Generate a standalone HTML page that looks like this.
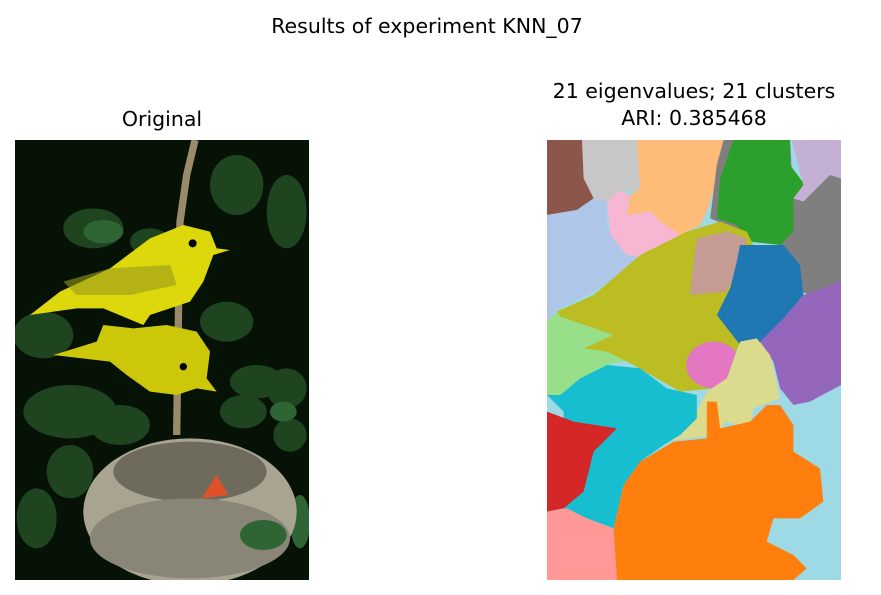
<!DOCTYPE html>
<html><head><meta charset="utf-8"><style>
body{margin:0;background:#fff;width:881px;height:595px;overflow:hidden;position:relative;font-family:"DejaVu Sans","Liberation Sans",sans-serif;}
.t{position:absolute;font-size:20.5px;color:#000;text-align:center;white-space:nowrap;line-height:27px}
svg{position:absolute}
</style></head><body>
<div class="t" style="left:0;width:854px;top:13px">Results of experiment KNN_07</div>
<div class="t" style="left:15px;width:294px;top:106px">Original</div>
<div class="t" style="left:547px;width:294px;top:78px">21 eigenvalues; 21 clusters<br>ARI: 0.385468</div>

<svg style="left:15px;top:140px" width="294" height="440" viewBox="15 15 882 1320" preserveAspectRatio="none">
<rect x="15" y="15" width="882" height="1320" fill="#071207"/>
<g fill="#1e4420">
<ellipse cx="250" cy="280" rx="90" ry="60"/><ellipse cx="680" cy="150" rx="80" ry="90"/><ellipse cx="830" cy="230" rx="60" ry="110"/>
<ellipse cx="100" cy="600" rx="90" ry="70"/><ellipse cx="180" cy="830" rx="140" ry="80"/><ellipse cx="330" cy="870" rx="90" ry="60"/>
<ellipse cx="740" cy="740" rx="80" ry="50"/><ellipse cx="700" cy="830" rx="70" ry="50"/><ellipse cx="830" cy="760" rx="60" ry="60"/>
<ellipse cx="180" cy="1010" rx="70" ry="80"/><ellipse cx="80" cy="1150" rx="60" ry="90"/><ellipse cx="650" cy="560" rx="80" ry="60"/>
<ellipse cx="840" cy="900" rx="50" ry="50"/><ellipse cx="420" cy="320" rx="60" ry="40"/>
</g>
<g fill="#2f6534"><ellipse cx="760" cy="1200" rx="80" ry="55"/><ellipse cx="870" cy="1160" rx="30" ry="80"/><ellipse cx="820" cy="830" rx="40" ry="30"/><ellipse cx="280" cy="290" rx="60" ry="35"/></g>
<path d="M555 15 L530 120 L510 260 L505 560 L500 900" stroke="#9a8a6a" stroke-width="22" fill="none"/>
<path d="M60 540 L150 470 L300 400 L420 310 L520 270 L600 290 L620 340 L660 345 L610 360 L580 440 L540 500 L420 540 L400 570 L280 520 L200 520 Z" fill="#dcd80c"/>
<path d="M160 440 L300 400 L480 390 L500 450 L360 480 L200 480 Z" fill="#9a9a1a" opacity="0.6"/>
<path d="M130 660 L260 620 L280 570 L370 580 L470 570 L560 590 L600 650 L590 730 L620 770 L560 760 L500 780 L420 770 L350 720 L300 680 Z" fill="#cdc70a"/>
<circle cx="548" cy="325" r="12" fill="#000"/><circle cx="520" cy="695" r="11" fill="#000"/>
<ellipse cx="540" cy="1130" rx="320" ry="220" fill="#a9a492"/>
<ellipse cx="540" cy="1010" rx="230" ry="90" fill="#6e6a5c"/>
<ellipse cx="540" cy="1210" rx="300" ry="120" fill="#8a8677"/>
<path d="M575 1090 L620 1020 L655 1080 Z" fill="#e0502a"/>
<ellipse cx="760" cy="1200" rx="70" ry="45" fill="#2f6534"/>
</svg>

<svg style="left:547px;top:140px" width="294" height="440" viewBox="20 15 883 1320" preserveAspectRatio="none">
<rect x="20" y="15" width="883" height="1320" fill="#9edae5"/>
<polygon fill="#8c564b" points="20,15 140,15 140,130 160,190 110,225 20,240"/>
<polygon fill="#c7c7c7" points="125,15 300,15 300,170 240,165 200,200 160,190 130,130"/>
<polygon fill="#ffbb78" points="290,15 550,15 540,100 500,230 480,270 420,300 360,260 330,230 260,240 270,180 300,160"/>
<polygon fill="#7f7f7f" points="550,15 750,15 760,190 870,120 903,130 903,440 880,500 780,470 760,370 720,330 630,300 510,250 530,90"/>
<polygon fill="#2ca02c" points="580,15 750,15 750,90 795,150 760,190 760,290 720,330 630,320 590,270 530,250 540,130"/>
<polygon fill="#c5b0d5" points="755,15 903,15 903,130 870,120 790,200 760,190 790,150"/>
<polygon fill="#aec7e8" points="20,240 110,225 160,190 200,200 200,280 250,330 300,370 240,420 160,470 60,520 20,560"/>
<polygon fill="#f7b6d2" points="200,200 240,165 270,180 260,240 330,230 360,260 420,300 330,370 260,360 210,300"/>
<polygon fill="#98df8a" points="20,560 60,520 270,520 380,560 330,660 200,690 120,730 60,780 20,780"/>
<polygon fill="#bcbd22" points="50,530 160,480 300,360 440,290 540,260 620,290 640,330 590,380 570,460 590,530 600,620 560,720 520,760 420,770 350,730 280,690 200,650 130,640 220,600 60,545"/>
<polygon fill="#c49c94" points="470,310 560,290 620,310 600,380 560,470 450,480 460,380"/>
<polygon fill="#1f77b4" points="600,330 730,330 780,390 790,480 740,540 680,620 600,630 530,540 570,460 590,380"/>
<polygon fill="#9467bd" points="660,620 740,540 790,480 903,440 903,750 810,800 760,810 720,760 700,680"/>
<ellipse fill="#e377c2" cx="520" cy="690" rx="82" ry="70"/>
<polygon fill="#dbdb8d" points="600,620 650,610 690,660 720,790 640,820 630,880 560,860 520,900 370,920 370,870 470,830 500,770 560,730"/>
<polygon fill="#17becf" points="20,780 60,780 120,730 200,690 300,700 380,760 470,780 470,850 420,900 370,930 300,980 250,1050 220,1180 140,1150 70,1120 70,830"/>
<polygon fill="#d62728" points="20,830 100,860 230,880 160,950 130,1070 70,1120 20,1130"/>
<polygon fill="#ff9896" points="20,1130 80,1120 140,1150 220,1180 230,1335 20,1335"/>
<polygon fill="#ff7f0e" points="220,1180 250,1050 300,980 400,920 500,910 500,800 530,800 540,880 630,860 680,810 720,810 760,870 760,950 840,1000 850,1100 780,1150 700,1150 680,1220 760,1260 800,1300 760,1335 230,1335"/>
</svg>
</body></html>
